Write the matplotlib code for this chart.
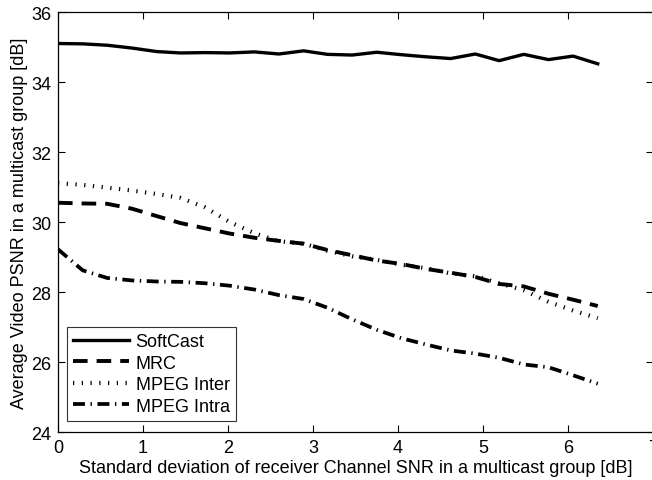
import matplotlib
matplotlib.use("Agg")
import matplotlib.pyplot as plt

plt.rcParams['font.family'] = ['Liberation Sans', 'DejaVu Sans']
plt.rcParams['lines.scale_dashes'] = False

x = [0.00, 0.29, 0.58, 0.87, 1.16, 1.44, 1.73, 2.02, 2.31, 2.60, 2.89, 3.17,
     3.46, 3.75, 4.04, 4.33, 4.62, 4.91, 5.19, 5.48, 5.77, 6.06, 6.35]

softcast = [35.10, 35.09, 35.05, 34.97, 34.87, 34.83, 34.84, 34.83, 34.86, 34.80,
            34.89, 34.79, 34.77, 34.85, 34.78, 34.72, 34.67, 34.80, 34.61, 34.79,
            34.64, 34.74, 34.52]
mrc = [30.55, 30.53, 30.52, 30.38, 30.17, 29.97, 29.82, 29.67, 29.55, 29.46,
       29.38, 29.20, 29.05, 28.90, 28.80, 28.66, 28.55, 28.43, 28.23, 28.16,
       27.95, 27.78, 27.60]
mpeg_inter = [31.11, 31.06, 30.98, 30.90, 30.80, 30.69, 30.42, 30.00, 29.68, 29.45,
              29.38, 29.18, 29.02, 28.92, 28.78, 28.68, 28.53, 28.45, 28.25, 28.05,
              27.72, 27.47, 27.25]
mpeg_intra = [29.22, 28.62, 28.40, 28.33, 28.30, 28.29, 28.25, 28.18, 28.07, 27.91,
              27.80, 27.55, 27.22, 26.92, 26.68, 26.50, 26.33, 26.24, 26.12, 25.93,
              25.85, 25.62, 25.38]

labels = ['SoftCast', 'MRC', 'MPEG Inter', 'MPEG Intra']
xticks = [0, 1, 2, 3, 4, 5, 6, 7]
yticks = [24, 26, 28, 30, 32, 34, 36]

fig = plt.figure(figsize=(6.52, 4.81), dpi=100)
ax = fig.add_axes([58/652, 1-433/481, 595/652, 420/481])

ax.plot(x, softcast, color='black', lw=2.4, linestyle='-', label=labels[0])
ax.plot(x, mrc, color='black', lw=2.8, linestyle=(0, (10.5, 6.5)), label=labels[1])
ax.plot(x, mpeg_inter, color='black', lw=3.0, linestyle=(0, (0.9, 5.4)), label=labels[2])
ax.plot(x, mpeg_intra, color='black', lw=2.7, linestyle=(0, (8.6, 4.0, 1.0, 4.0)), label=labels[3])

ax.set_xlim(0, 7)
ax.set_ylim(24, 36)
ax.set_xticks(xticks)
ax.set_yticks(yticks)
ax.tick_params(direction='in', length=5, width=0.8, top=True, right=True,
               labelsize=13, pad=5)
for s in ax.spines.values():
    s.set_linewidth(0.9)

ax.set_xlabel('Standard deviation of receiver Channel SNR in a multicast group [dB]',
              fontsize=13, labelpad=2)
ax.set_ylabel('Average Video PSNR in a multicast group [dB]', fontsize=13, labelpad=2)

leg = ax.legend(loc='lower left', bbox_to_anchor=(9/595, 11/420), fontsize=13,
                frameon=True, fancybox=False, shadow=False, handlelength=3.1,
                handletextpad=0.35, labelspacing=0.25, borderpad=0.35,
                borderaxespad=0)
leg.get_frame().set_edgecolor('black')
leg.get_frame().set_linewidth(0.8)

fig.savefig('out.png', dpi=100)
